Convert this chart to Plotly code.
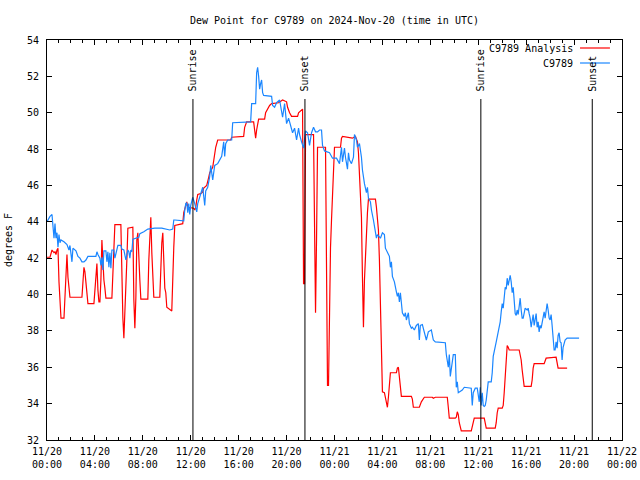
import pandas as pd
import plotly.graph_objects as go

# ---------------- data (minutes after 2024-11-20 00:00 UTC, degrees F) ----------------
obs_minutes = [
    0, 15, 25, 30, 35, 40, 45, 50, 55, 60,
    65, 70, 85, 100, 110, 115, 120, 125, 130, 145,
    155, 165, 175, 185, 195, 205, 245, 250, 255, 265,
    270, 275, 280, 285, 295, 300, 305, 310, 315, 320,
    325, 335, 340, 345, 350, 355, 370, 375, 385, 390,
    395, 400, 405, 410, 415, 420, 425, 430, 455, 460,
    465, 485, 505, 540, 575, 615, 630, 635, 640, 685,
    690, 695, 700, 705, 710, 715, 720, 730, 740, 750,
    755, 765, 775, 780, 790, 795, 805, 815, 820, 830,
    840, 855, 875, 885, 890, 895, 905, 925, 930, 1020,
    1025, 1045, 1050, 1055, 1060, 1065, 1070, 1075, 1080, 1085,
    1125, 1130, 1140, 1150, 1165, 1180, 1190, 1200, 1210, 1220,
    1230, 1240, 1250, 1260, 1265, 1275, 1285, 1295, 1305, 1315,
    1325, 1335, 1345, 1355, 1365, 1375, 1380, 1390, 1405, 1415,
    1430, 1450, 1465, 1475, 1480, 1490, 1495, 1505, 1510, 1515,
    1525, 1535, 1540, 1550, 1555, 1565, 1575, 1580, 1590, 1600,
    1605, 1610, 1620, 1625, 1635, 1640, 1650, 1655, 1670, 1680,
    1690, 1695, 1705, 1715, 1720, 1725, 1730, 1740, 1750, 1755,
    1760, 1765, 1770, 1775, 1780, 1790, 1795, 1800, 1810, 1815,
    1825, 1830, 1840, 1850, 1860, 1865, 1870, 1880, 1890, 1900,
    1910, 1920, 1925, 1935, 1945, 1995, 2000, 2010, 2015, 2020,
    2025, 2035, 2045, 2050, 2055, 2060, 2080, 2090, 2125, 2130,
    2135, 2145, 2155, 2160, 2165, 2170, 2175, 2180, 2185, 2190,
    2195, 2200, 2205, 2210, 2225, 2230, 2235, 2240, 2250, 2260,
    2270, 2275, 2280, 2285, 2290, 2295, 2300, 2305, 2310, 2315,
    2320, 2325, 2330, 2335, 2340, 2345, 2350, 2355, 2360, 2365,
    2370, 2375, 2380, 2385, 2390, 2395, 2405, 2410, 2415, 2420,
    2425, 2430, 2435, 2440, 2445, 2450, 2455, 2460, 2465, 2470,
    2475, 2480, 2485, 2490, 2495, 2500, 2505, 2510, 2515, 2520,
    2525, 2530, 2535, 2540, 2545, 2550, 2555, 2560, 2565, 2570,
    2575, 2580, 2585, 2590, 2595, 2605, 2665,
]
obs_dewpoint = [
    44.0, 44.3, 44.4, 43.55, 43.1, 43.9, 43.1, 43.4, 42.6, 43.3,
    42.85, 43.0, 42.9, 42.75, 42.45, 42.7, 42.2, 41.8, 42.55, 42.4,
    42.1, 42.0, 41.8, 41.8, 41.9, 42.1, 42.1, 42.35, 42.2, 42.0,
    41.6, 42.05, 41.35, 42.4, 42.4, 41.8, 42.35, 41.5, 42.3, 41.45,
    42.45, 42.45, 42.0, 42.2, 42.55, 42.7, 42.7, 42.5, 42.45, 42.25,
    41.9, 42.2, 42.45, 42.35, 42.0, 42.45, 42.35, 43.05, 43.1, 43.15,
    43.35, 43.45, 43.6, 43.65, 43.65, 43.55, 43.6, 44.1, 44.1, 44.05,
    44.65, 45.0, 45.05, 44.5, 45.0, 44.4, 44.9, 45.35, 45.0, 44.55,
    45.0, 45.35, 45.7, 45.9, 44.9, 45.7, 45.9, 46.5, 47.1, 46.3,
    47.1, 47.2, 47.6, 48.4, 47.6, 48.3, 48.5, 48.5, 49.45, 49.5,
    50.5, 50.5, 52.2, 52.5, 52.0, 51.3, 51.6, 51.8, 51.1, 50.95,
    50.9, 50.4, 50.3, 50.55, 50.7, 49.75, 50.5, 49.4, 49.7, 49.3,
    48.9, 49.15, 48.5, 49.15, 48.8, 48.4, 48.05, 49.0, 48.9, 48.2,
    48.9, 49.2, 48.95, 48.95, 49.05, 49.05, 48.2, 47.9, 47.85, 47.8,
    47.5, 47.5, 47.2, 48.1, 47.3, 48.05, 47.55, 46.9, 47.8, 47.4,
    47.2, 47.55, 48.8, 48.5, 48.1, 48.3, 47.55, 46.85, 46.1, 45.6,
    45.9, 45.3, 45.1, 44.65, 44.1, 43.7, 43.1, 43.3, 43.1, 43.4,
    43.3, 42.55, 42.3, 42.1, 41.5, 41.8, 41.0, 40.7, 40.15, 39.9,
    40.1, 39.6, 40.1, 39.3, 39.0, 38.8, 39.0, 38.6, 39.0, 38.4,
    38.15, 38.2, 38.05, 38.3, 38.4, 37.5, 38.3, 38.35, 37.95, 37.5,
    37.95, 38.05, 38.05, 37.5, 37.4, 37.35, 36.7, 36.0, 36.7, 35.5,
    36.0, 36.7, 36.7, 34.9, 35.2, 34.6, 34.75, 34.9, 34.85, 33.9,
    34.6, 34.85, 34.85, 34.4, 34.1, 34.9, 33.9, 34.6, 33.9, 33.85,
    33.9, 34.2, 34.6, 35.2, 35.2, 35.7, 36.6, 36.95, 37.4, 37.95,
    38.5, 39.05, 39.5, 39.25, 40.1, 40.4, 40.3, 40.9, 40.5, 40.8,
    41.05, 40.7, 40.1, 40.4, 39.7, 38.95, 38.85, 39.15, 38.9, 39.5,
    39.8, 39.15, 38.7, 38.7, 39.05, 39.25, 39.15, 39.25, 38.95, 38.7,
    38.2, 38.7, 38.9, 38.3, 38.6, 38.95, 38.2, 38.5, 37.95, 38.3,
    38.15, 38.5, 38.95, 39.05, 38.7, 39.15, 39.5, 39.15, 38.7, 38.6,
    38.9, 38.3, 37.65, 36.95, 36.95, 37.4, 37.05, 37.75, 37.9, 37.4,
    37.35, 36.4, 37.1, 37.35, 37.5, 37.6, 37.6,
]

ana_minutes = [
    0, 15, 25, 35, 40, 45, 50, 55, 60, 65,
    70, 85, 90, 95, 100, 105, 110, 115, 175, 180,
    185, 190, 195, 200, 205, 235, 240, 245, 250, 255,
    260, 265, 270, 275, 280, 285, 290, 295, 325, 330,
    335, 340, 370, 375, 380, 385, 390, 395, 400, 405,
    430, 435, 440, 445, 450, 455, 460, 465, 470, 505,
    510, 515, 520, 525, 530, 535, 565, 570, 575, 580,
    585, 590, 595, 600, 625, 630, 635, 640, 680, 685,
    695, 700, 705, 735, 740, 745, 750, 755, 770, 780,
    785, 800, 810, 815, 830, 835, 840, 845, 855, 920,
    925, 985, 990, 1000, 1035, 1040, 1045, 1050, 1055, 1060,
    1090, 1095, 1115, 1125, 1160, 1180, 1200, 1205, 1215, 1225,
    1255, 1260, 1280, 1285, 1290, 1295, 1335, 1340, 1345, 1350,
    1355, 1395, 1400, 1405, 1410, 1415, 1420, 1425, 1430, 1435,
    1440, 1470, 1475, 1480, 1530, 1545, 1550, 1555, 1560, 1565,
    1570, 1575, 1580, 1585, 1590, 1595, 1600, 1605, 1610, 1645,
    1650, 1655, 1660, 1665, 1670, 1675, 1680, 1690, 1695, 1700,
    1705, 1710, 1715, 1720, 1750, 1755, 1760, 1765, 1770, 1775,
    1825, 1830, 1835, 1865, 1875, 1890, 1930, 1935, 1945, 2005,
    2010, 2015, 2045, 2050, 2055, 2060, 2065, 2070, 2075, 2125,
    2130, 2135, 2140, 2190, 2195, 2200, 2245, 2250, 2255, 2260,
    2280, 2285, 2290, 2295, 2300, 2305, 2310, 2315, 2365, 2370,
    2375, 2380, 2385, 2390, 2425, 2430, 2435, 2440, 2490, 2495,
    2500, 2550, 2555, 2560, 2605,
]
ana_dewpoint = [
    42.05, 42.05, 42.45, 42.3, 42.35, 42.2, 42.45, 42.55, 40.7, 39.3,
    38.7, 38.7, 40.25, 41.6, 42.2, 40.95, 40.35, 39.85, 39.85, 40.8,
    41.5, 41.25, 40.7, 40.35, 39.5, 39.5, 40.35, 41.25, 41.7, 40.25,
    39.6, 39.6, 40.8, 43.0, 41.5, 40.8, 40.35, 39.8, 39.8, 41.5,
    43.15, 43.85, 43.85, 40.4, 38.7, 37.6, 38.8, 40.4, 41.9, 43.65,
    43.7, 39.7, 38.15, 39.8, 43.0, 43.4, 42.45, 40.8, 39.75, 39.75,
    41.9, 43.0, 44.25, 42.3, 40.6, 39.85, 39.85, 41.5, 42.85, 43.4,
    41.35, 40.35, 40.1, 39.3, 39.1, 41.5, 42.6, 43.8, 43.9, 44.5,
    45.0, 45.1, 44.8, 44.75, 44.65, 44.8, 45.2, 45.5, 45.55, 45.65,
    45.85, 46.0, 46.45, 46.7, 47.0, 47.4, 47.8, 48.1, 48.5, 48.5,
    48.65, 48.7, 49.2, 49.5, 49.5, 49.05, 48.6, 49.05, 49.45, 49.65,
    49.65, 50.0, 50.4, 50.5, 50.55, 50.7, 50.6, 50.3, 50.0, 49.8,
    49.8, 50.0, 50.2, 40.6, 40.6, 48.8, 48.8, 43.9, 39.0, 43.0,
    48.1, 48.1, 40.25, 35.0, 35.0, 40.95, 42.6, 44.1, 45.75, 47.3,
    48.1, 48.1, 48.6, 48.7, 48.6, 48.7, 48.5, 48.4, 47.8, 46.85,
    45.6, 44.25, 40.95, 38.2, 40.8, 42.3, 43.55, 44.5, 45.25, 45.25,
    44.8, 44.25, 43.55, 41.9, 39.0, 36.0, 34.65, 34.6, 34.35, 34.1,
    33.8, 34.35, 34.9, 35.7, 35.7, 35.95, 36.0, 35.45, 34.9, 34.4,
    34.4, 34.25, 33.8, 33.8, 34.1, 34.35, 34.35, 34.3, 34.35, 34.35,
    33.8, 33.2, 33.2, 33.25, 33.55, 33.4, 32.95, 32.65, 32.5, 32.5,
    32.7, 33.0, 33.2, 33.2, 32.95, 32.65, 32.65, 32.95, 33.5, 33.75,
    33.75, 33.9, 34.6, 35.45, 36.4, 37.2, 37.1, 36.95, 36.95, 36.7,
    36.4, 35.85, 35.3, 34.95, 34.95, 35.3, 35.95, 36.2, 36.2, 36.35,
    36.5, 36.55, 36.3, 35.95, 35.95,
]

sun_labels = ["Sunrise", "Sunset", "Sunrise", "Sunset"]
sun_times = ["2024-11-20 12:11", "2024-11-20 21:32", "2024-11-21 12:13", "2024-11-21 21:31"]

series_names = ["C9789 Analysis", "C9789"]
series_colors = ["#ff0000", "#1a86ff"]

start = pd.Timestamp("2024-11-20 00:00")
end = pd.Timestamp("2024-11-22 00:00")

def to_time(mins):
    return [start + pd.Timedelta(minutes=m) for m in mins]

FONT = "DejaVu Sans Mono"
W, H = 640, 480

fig = go.Figure()
fig.add_trace(go.Scatter(x=to_time(ana_minutes), y=ana_dewpoint, mode="lines",
                         name=series_names[0], showlegend=False,
                         line=dict(color=series_colors[0], width=1.2)))
fig.add_trace(go.Scatter(x=to_time(obs_minutes), y=obs_dewpoint, mode="lines",
                         name=series_names[1], showlegend=False,
                         line=dict(color=series_colors[1], width=1.2)))

shapes = []
annotations = []
for lab, t in zip(sun_labels, sun_times):
    shapes.append(dict(type="line", xref="x", yref="paper", x0=t, x1=t, y0=0, y1=0.8525,
                       line=dict(color="black", width=1)))
    annotations.append(dict(x=t, y=0.866, xref="x", yref="paper", text=lab, textangle=-90,
                            showarrow=False, xanchor="center", yanchor="bottom",
                            font=dict(family=FONT, size=10, color="black")))

# key (gnuplot style: text then line sample)
key_y = [0.98, 0.9425]
for name, col, ky in zip(series_names, series_colors, key_y):
    annotations.append(dict(x=0.918, y=ky, xref="paper", yref="paper", text=name,
                            showarrow=False, xanchor="right", yanchor="middle",
                            font=dict(family=FONT, size=10, color="black")))
    shapes.append(dict(type="line", xref="paper", yref="paper", x0=0.927, x1=0.979,
                       y0=ky, y1=ky, line=dict(color=col, width=1.2)))

fig.update_layout(
    width=W, height=H,
    margin=dict(l=47, r=18, t=40, b=40, autoexpand=False),
    paper_bgcolor="white", plot_bgcolor="white",
    font=dict(family=FONT, size=10, color="black"),
    title=dict(text="Dew Point for C9789 on 2024-Nov-20 (time in UTC)",
               x=(47 + 287.5) / W, xanchor="center", y=1 - 20 / H, yanchor="middle",
               font=dict(family=FONT, size=10, color="black")),
    shapes=shapes, annotations=annotations,
    showlegend=False,
)
fig.update_xaxes(
    type="date", range=[start, end], automargin=False,
    tick0=start, dtick=4 * 3600000, tickformat="%m/%d<br>%H:%M",
    ticks="inside", ticklen=5, tickcolor="black",
    showline=True, linecolor="black", linewidth=1, mirror="allticks",
    showgrid=False, zeroline=False,
    minor=dict(dtick=3600000, ticks="inside", ticklen=3, tickcolor="black", showgrid=False),
    tickfont=dict(family=FONT, size=10, color="black"),
    ticklabelstandoff=2,
)
fig.update_yaxes(
    range=[32, 54], dtick=2, tick0=32, automargin=False,
    ticks="inside", ticklen=5, tickcolor="black",
    showline=True, linecolor="black", linewidth=1, mirror="allticks",
    showgrid=False, zeroline=False,
    title=dict(text="degrees F", font=dict(family=FONT, size=10, color="black"), standoff=12),
    tickfont=dict(family=FONT, size=10, color="black"),
    ticklabelstandoff=5,
)

fig.write_html(
    "out.html",
    config={"displayModeBar": False},
    post_script="document.body.style.margin='0';document.body.style.overflow='hidden';",
)
